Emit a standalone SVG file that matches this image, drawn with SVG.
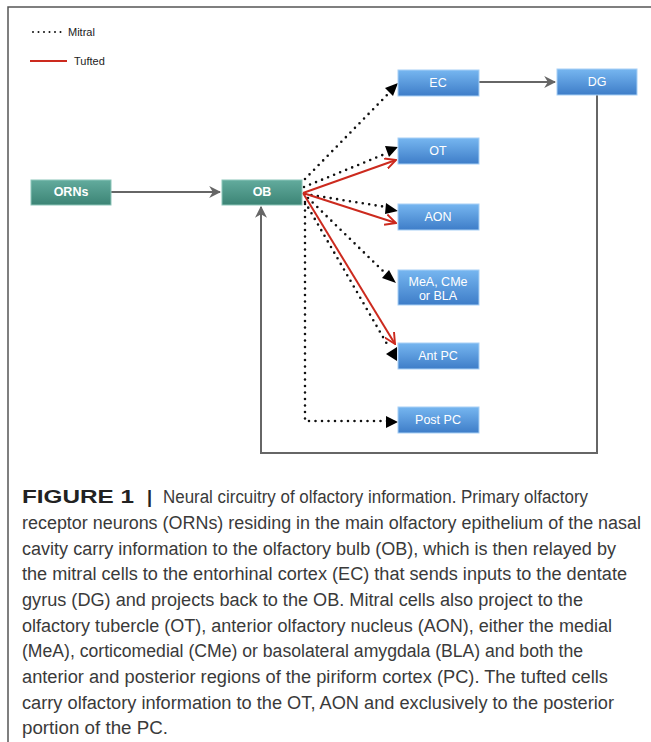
<svg xmlns="http://www.w3.org/2000/svg" width="651" height="742" viewBox="0 0 651 742">
<defs>
<linearGradient id="gBlue" x1="0" y1="0" x2="0" y2="1">
<stop offset="0" stop-color="#76b6f0"/>
<stop offset="1" stop-color="#3e7dc8"/>
</linearGradient>
<linearGradient id="gTeal" x1="0" y1="0" x2="0" y2="1">
<stop offset="0" stop-color="#62ab9d"/>
<stop offset="1" stop-color="#3c8475"/>
</linearGradient>
<marker id="aGray" viewBox="0 0 10 10" refX="9" refY="5" markerWidth="6" markerHeight="6" markerUnits="strokeWidth" orient="auto">
<path d="M0,0 L10,5 L0,10 L3,5 Z" fill="#666"/>
</marker>
<marker id="aRed" viewBox="0 0 10 10" refX="9" refY="5" markerWidth="6" markerHeight="6" markerUnits="strokeWidth" orient="auto">
<path d="M0,0.5 L9,5 L0,9.5" fill="none" stroke="#cc2a1e" stroke-width="1.6"/>
</marker>
</defs>
<style>
.frame{fill:none;stroke:#555;stroke-width:1.5}
.teal{fill:url(#gTeal);stroke:#8cc5b9;stroke-width:1}
.blue{fill:url(#gBlue);stroke:#a8d0f5;stroke-width:1}
.lbl{font-family:"Liberation Sans",Arial,sans-serif;font-size:12.5px;fill:#fff;text-anchor:middle}
.b{font-weight:bold}
.gray{fill:none;stroke:#666;stroke-width:2}
.red{fill:none;stroke:#cc2a1e;stroke-width:2}
.dot{fill:none;stroke:#111;stroke-width:2.6;stroke-linecap:round;stroke-dasharray:0 6.5}
.tri{fill:#000}
.leg{font-family:"Liberation Sans",Arial,sans-serif;font-size:11px;fill:#222}
.cap{font-family:"Liberation Sans",Arial,sans-serif;font-size:18px;fill:#3a3a3a}
</style>
<path class="frame" d="M8,742 L8,7 L651,7"/>
<g id="legend">
<line class="dot" x1="33" y1="32" x2="63" y2="32" style="stroke-width:2;stroke-dasharray:0 5.5"/>
<text class="leg" x="68" y="36">Mitral</text>
<line x1="30" y1="61" x2="67" y2="61" stroke="#cc2a1e" stroke-width="2"/>
<text class="leg" x="74" y="65">Tufted</text>
</g>
<g id="connectors">
<line class="gray" x1="111" y1="192" x2="220" y2="192" marker-end="url(#aGray)"/>
<line class="gray" x1="479" y1="82" x2="555" y2="82" marker-end="url(#aGray)"/>
<path class="gray" d="M597,95 L597,453 L261,453 L261,207" marker-end="url(#aGray)"/>
<line class="dot" x1="305" y1="179" x2="388" y2="94"/>
<polygon class="tri" points="398,83 385,88 393,96"/>
<line class="dot" x1="304" y1="187" x2="385" y2="154"/>
<polygon class="tri" points="398,147 385,146 389,157"/>
<line class="dot" x1="305" y1="194" x2="386" y2="207"/>
<polygon class="tri" points="398,211 386,203 385,214"/>
<line class="dot" x1="308" y1="198" x2="384" y2="272"/>
<polygon class="tri" points="396,283 389,270 382,278"/>
<line class="dot" x1="305" y1="202" x2="387" y2="344"/>
<polygon class="tri" points="386,354 397,347 397,361"/>
<path class="dot" d="M305,204 L305,421 L388,421"/>
<polygon class="tri" points="398,422 386,416 386,428"/>
<line class="red" x1="303" y1="193" x2="396" y2="160" marker-end="url(#aRed)"/>
<line class="red" x1="303" y1="193" x2="396" y2="223" marker-end="url(#aRed)"/>
<line class="red" x1="303" y1="193" x2="395" y2="344" marker-end="url(#aRed)"/>
</g>
<g id="ORNs"><rect class="teal" x="31" y="180" width="80" height="25"/><text class="lbl b" x="71" y="196">ORNs</text></g>
<g id="OB"><rect class="teal" x="222" y="180" width="80" height="25"/><text class="lbl b" x="262" y="196">OB</text></g>
<g id="EC"><rect class="blue" x="398" y="70" width="81" height="26"/><text class="lbl" x="438" y="87">EC</text></g>
<g id="DG"><rect class="blue" x="557" y="69" width="80" height="26"/><text class="lbl" x="597" y="86">DG</text></g>
<g id="OT"><rect class="blue" x="398" y="138" width="81" height="26"/><text class="lbl" x="438" y="155">OT</text></g>
<g id="AON"><rect class="blue" x="398" y="204" width="81" height="26"/><text class="lbl" x="438" y="221">AON</text></g>
<g id="MeA"><rect class="blue" x="398" y="270" width="81" height="35"/><text class="lbl" x="438" y="286">MeA, CMe</text><text class="lbl" x="438" y="300">or BLA</text></g>
<g id="AntPC"><rect class="blue" x="398" y="343" width="81" height="26"/><text class="lbl" x="438" y="360">Ant PC</text></g>
<g id="PostPC"><rect class="blue" x="398" y="407" width="81" height="26"/><text class="lbl" x="438" y="424">Post PC</text></g>
<g id="caption">
<text class="cap" x="22" y="503" font-weight="bold" textLength="112" lengthAdjust="spacingAndGlyphs" style="fill:#222;font-size:19px">FIGURE 1</text>
<text class="cap" x="147" y="503" font-weight="bold" style="fill:#222">|</text>
<text class="cap" x="163" y="503" textLength="425" lengthAdjust="spacingAndGlyphs">Neural circuitry of olfactory information. Primary olfactory</text>
<text class="cap" x="22" y="529" textLength="619" lengthAdjust="spacingAndGlyphs">receptor neurons (ORNs) residing in the main olfactory epithelium of the nasal</text>
<text class="cap" x="22" y="555" textLength="594" lengthAdjust="spacingAndGlyphs">cavity carry information to the olfactory bulb (OB), which is then relayed by</text>
<text class="cap" x="22" y="580" textLength="605" lengthAdjust="spacingAndGlyphs">the mitral cells to the entorhinal cortex (EC) that sends inputs to the dentate</text>
<text class="cap" x="22" y="606" textLength="561" lengthAdjust="spacingAndGlyphs">gyrus (DG) and projects back to the OB. Mitral cells also project to the</text>
<text class="cap" x="22" y="632" textLength="590" lengthAdjust="spacingAndGlyphs">olfactory tubercle (OT), anterior olfactory nucleus (AON), either the medial</text>
<text class="cap" x="22" y="657" textLength="561" lengthAdjust="spacingAndGlyphs">(MeA), corticomedial (CMe) or basolateral amygdala (BLA) and both the</text>
<text class="cap" x="22" y="683" textLength="586" lengthAdjust="spacingAndGlyphs">anterior and posterior regions of the piriform cortex (PC). The tufted cells</text>
<text class="cap" x="22" y="709" textLength="592" lengthAdjust="spacingAndGlyphs">carry olfactory information to the OT, AON and exclusively to the posterior</text>
<text class="cap" x="22" y="734" textLength="146" lengthAdjust="spacingAndGlyphs">portion of the PC.</text>
</g>
</svg>
